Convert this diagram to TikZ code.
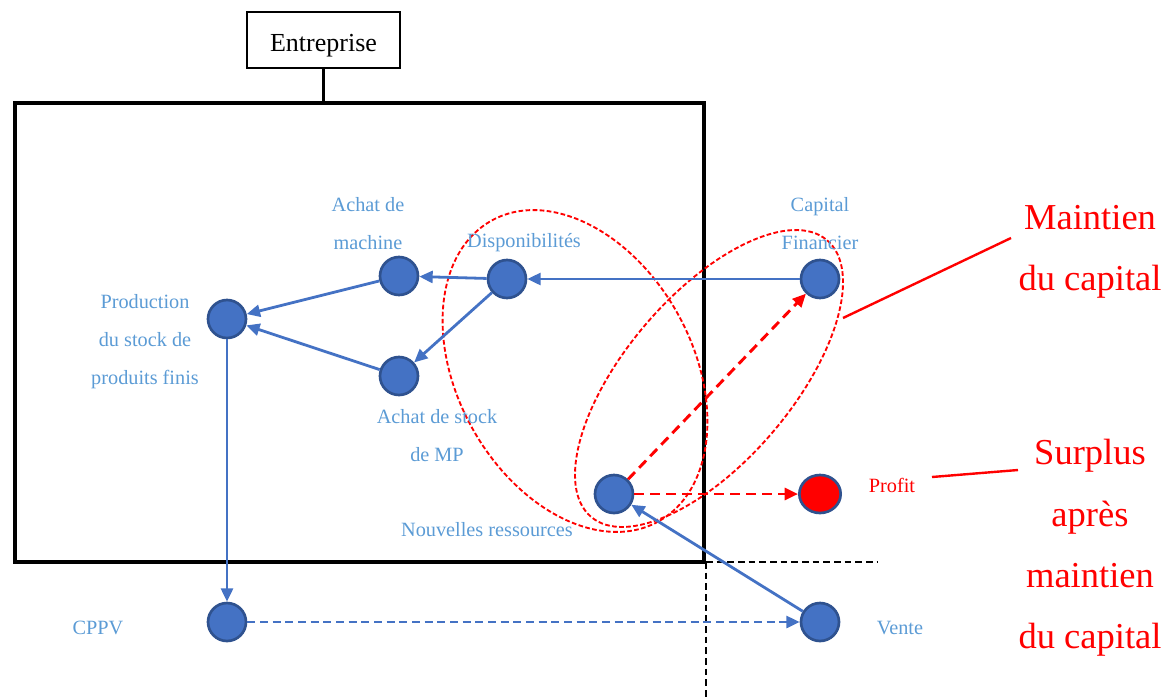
\documentclass[tikz,border=0pt]{standalone}
\usepackage{fontspec}
\setmainfont{Liberation Serif}
\usetikzlibrary{arrows.meta,shapes.geometric}
\definecolor{nodeblue}{HTML}{4472C4}
\definecolor{nodeedge}{HTML}{2F528F}
\definecolor{labelblue}{HTML}{5B9BD5}
\definecolor{pured}{HTML}{FF0000}
\tikzset{
  dot/.style={circle, minimum size=28.5pt, inner sep=0pt, fill=nodeblue, draw=nodeedge, line width=2pt},
  reddot/.style={dot, fill=pured, minimum width=31pt, minimum height=28.5pt, ellipse},
  lbl/.style={text=labelblue, font=\fontsize{15.2}{28.5}\selectfont, align=center, inner sep=0pt},
  bigred/.style={text=pured, font=\fontsize{27.4}{46}\selectfont, align=center, inner sep=0pt},
  flow/.style={draw=nodeblue, line width=2.1pt, -{Triangle[length=10pt,width=9pt]}},
  dflow/.style={flow, dash pattern=on 6pt off 3.5pt},
  rflow/.style={draw=pured, line width=2.2pt, dash pattern=on 7.5pt off 4.5pt, -{Triangle[length=10pt,width=9pt]}},
  ring/.style={draw=pured, line width=1.4pt, dash pattern=on 3.5pt off 1.8pt},
  border/.style={draw=black, line width=3.5pt},
  bdash/.style={draw=black, line width=1.5pt, dash pattern=on 5pt off 3pt},
  pointer/.style={draw=pured, line width=1.8pt},
}
\begin{document}
\begin{tikzpicture}[x=0.75pt, y=-0.75pt]
\useasboundingbox (0,0) rectangle (1166,697);
% enterprise box
\node[draw=black, line width=1.1pt, minimum width=114.75pt, minimum height=42pt, inner sep=0pt] (ent) at (323.5,40) {};
\node[font=\fontsize{19.5}{22}\selectfont, inner sep=0pt] (enttxt) at (323.5,46) {Entreprise};
\draw[border] (15,103) rectangle (704,562);
\coordinate (entfoot) at (323.5,103);
\draw[line width=1.6pt] (ent.south) -- (entfoot);
% dashed frontier lines
\coordinate (corner) at (706,562);
\coordinate (hend) at (877,562);
\coordinate (vend) at (706,697);
\draw[bdash] (corner) -- (hend);
\draw[bdash] (corner) -- (vend);
% ellipses
\draw[ring] (575,371) ellipse[x radius=172, y radius=117.6, rotate=-61];
\draw[ring] (709,378.5) ellipse[x radius=181.8, y radius=83.3, rotate=49.5];
% nodes
\node[dot] (prod) at (227,319) {};
\node[dot] (mach) at (399,276) {};
\node[dot] (disp) at (507,279) {};
\node[dot] (stock) at (399,376) {};
\node[dot] (cap) at (820,279) {};
\node[dot] (nouv) at (614,494) {};
\node[reddot] (prof) at (820,494) {};
\node[dot] (cppv) at (227,622) {};
\node[dot] (vente) at (820,622) {};
% labels
\node[lbl] (lmach) at (368,224) {Achat de\\machine};
\node[lbl] (ldisp) at (524,243) {Disponibilités};
\node[lbl] (lprod) at (145,342) {Production\\du stock de\\produits finis};
\node[lbl] (lstock) at (437,436) {Achat de stock\\de MP};
\node[lbl] (lnouv) at (487,530) {Nouvelles ressources};
\node[lbl] (lcap) at (820,224) {Capital\\Financier};
\node[lbl, text=pured] (lprof) at (892,485) {Profit};
\node[lbl] (lcppv) at (98,628) {CPPV};
\node[lbl] (lvente) at (900,628) {Vente};
\node[bigred] (maint) at (1090,252) {Maintien\\du capital};
\node[bigred] (surp) at (1090,548) {Surplus\\après\\maintien\\du capital};
% connectors
\draw[flow] (cap) -- (disp);
\draw[flow] (disp) -- (mach);
\draw[flow] (disp) -- (stock);
\draw[flow] (mach) -- (prod);
\draw[flow] (stock) -- (prod);
\draw[flow] (prod) -- (cppv);
\draw[dflow] (cppv) -- (vente);
\draw[flow] (vente) -- (nouv);
\draw[rflow] (nouv) -- (cap);
\draw[rflow] (nouv) -- (prof);
% red pointer lines
\coordinate (mp1) at (843,318);
\coordinate (mp2) at (1011,238);
\coordinate (sp1) at (932,477);
\coordinate (sp2) at (1018,470);
\draw[pointer] (mp1) -- (mp2);
\draw[pointer] (sp1) -- (sp2);
\end{tikzpicture}
\end{document}
